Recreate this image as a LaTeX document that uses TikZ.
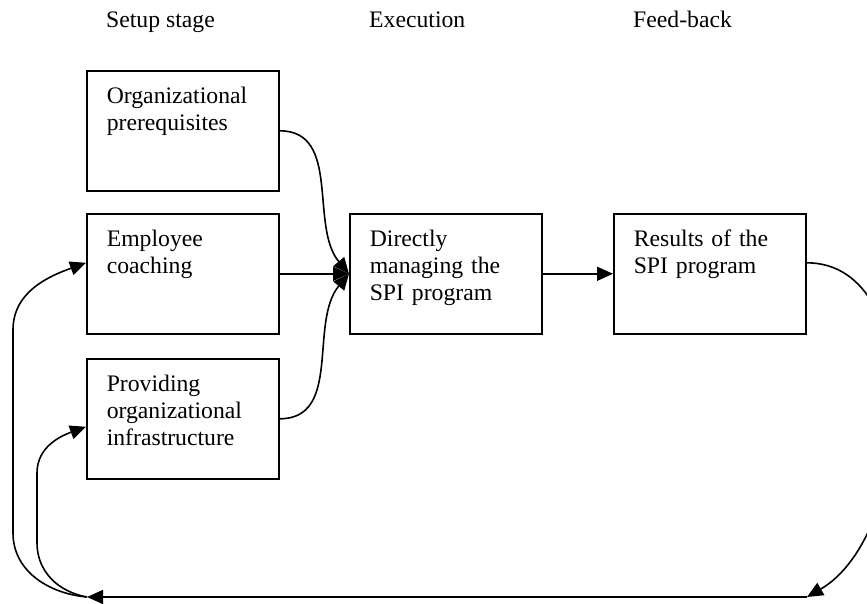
\documentclass[tikz,border=0pt]{standalone}
\usepackage{fontspec}
\setmainfont{Liberation Serif}
\usetikzlibrary{arrows.meta}

\begin{document}
\begin{tikzpicture}[x=1pt, y=1pt,
        font=\fontsize{23.7}{26.7}\selectfont,
        stagebox/.style={draw, line width=1.6pt, anchor=north west, align=left,
            text width=152pt, inner xsep=20pt, inner ysep=0pt,
            text height=33pt, text depth=87pt},
        stagehead/.style={anchor=base west, inner sep=0pt},
        flow/.style={line width=1.6pt, -{Triangle[length=16pt, width=14pt]}}]
            \useasboundingbox (0,0) rectangle (867,604);
            \node [stagehead] (S) at (106,576) {Setup stage};
            \node [stagehead] (X) at (369,576) {Execution};
            \node [stagehead] (F) at (633,576) {Feed-back};
            \node [stagebox] (O) at (86,534) {Organizational\\prerequisites};
            \node [stagebox] (E) at (86,391) {Employee\\coaching};
            \node [stagebox] (P) at (86,246) {Providing\\organizational\\infrastructure};
            \node [stagebox] (D) at (349,391) {Directly\\managing the\\SPI program};
            \node [stagebox] (R) at (613,391) {Results of the\\SPI program};
            \coordinate (BL) at (87,7);
            \coordinate (BR) at (807,7);
            \draw [flow] (O.east) to[out=0, in=130] (D.west);
            \draw [flow] (E.east) -- (D.west);
            \draw [flow] (P.east) to[out=0, in=-130] (D.west);
            \draw [flow] (D.east) -- (R.west);
            \draw [flow] ([yshift=11pt]R.east) to[out=0, in=30, looseness=0.95] (BR);
            \draw [flow] (BR) -- (BL);
            \draw [flow] (BL) to[out=175, in=-90] (13,71) -- (13,274)
                to[out=90, in=200] ([yshift=11pt]E.west);
            \draw [flow] (BL) to[out=170, in=-90] (37,61) -- (37,131)
                to[out=90, in=200] ([yshift=-8pt]P.west);
        \end{tikzpicture}
\end{document}
